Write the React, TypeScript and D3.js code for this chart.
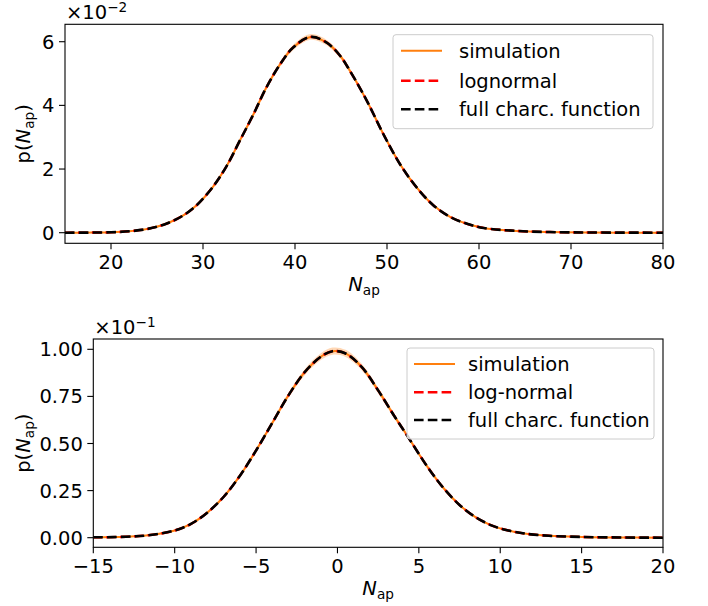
import React from 'react';
import * as d3 from 'd3';

// ---------- Data ----------
// Top panel: N_ap vs p(N_ap) in units of 1e-2
const topX = [15, 18, 20, 22, 24, 26, 27.9, 29.3, 31.1, 32.6, 34, 35.5, 36.9, 38.4, 39.8, 41.7, 43.4, 44.9, 46, 47.8, 49.6, 51.4, 53.2, 55, 56.85, 58.7, 60.5, 64.1, 67.7, 72, 80];
const topSim = [0.0, 0.004, 0.013, 0.045, 0.12, 0.28, 0.55, 0.86, 1.45, 2.11, 2.89, 3.73, 4.57, 5.3, 5.82, 6.15, 5.98, 5.56, 5.07, 4.15, 3.1, 2.16, 1.43, 0.87, 0.5, 0.28, 0.15, 0.055, 0.02, 0.006, 0.0];
const topSimErr = [0.01, 0.01, 0.01, 0.015, 0.02, 0.025, 0.03, 0.035, 0.04, 0.045, 0.05, 0.06, 0.07, 0.08, 0.085, 0.09, 0.085, 0.08, 0.07, 0.06, 0.05, 0.045, 0.04, 0.035, 0.03, 0.025, 0.02, 0.015, 0.01, 0.01, 0.01];
const topLognormal = [0.0, 0.004, 0.013, 0.045, 0.12, 0.28, 0.55, 0.86, 1.45, 2.11, 2.89, 3.73, 4.57, 5.3, 5.82, 6.15, 5.98, 5.56, 5.07, 4.15, 3.1, 2.16, 1.43, 0.87, 0.5, 0.28, 0.15, 0.055, 0.02, 0.006, 0.0];
const topFull = [0.0, 0.004, 0.013, 0.045, 0.12, 0.28, 0.55, 0.86, 1.45, 2.11, 2.89, 3.73, 4.57, 5.3, 5.82, 6.15, 5.98, 5.56, 5.07, 4.15, 3.1, 2.16, 1.43, 0.87, 0.5, 0.28, 0.15, 0.055, 0.02, 0.006, 0.0];
const topXTicks = [20, 30, 40, 50, 60, 70, 80];
const topYTicks = [0, 2, 4, 6];
const topYTickLabels = ['0', '2', '4', '6'];
const topLegend = ['simulation', 'lognormal', 'full charc. function'];

// Bottom panel: N_ap vs p(N_ap) in units of 1e-1
const botX = [-15, -13, -11.5, -10, -9, -8, -7, -6, -5, -4, -3, -2, -1, -0.3, 0.5, 1.5, 2.5, 3.5, 4.3, 5.5, 6.5, 7.5, 8.5, 9.5, 10.5, 11.5, 13, 15, 17.5, 20];
const botSim = [0.002, 0.005, 0.014, 0.038, 0.073, 0.133, 0.216, 0.328, 0.463, 0.61, 0.757, 0.88, 0.962, 0.99, 0.978, 0.905, 0.782, 0.645, 0.54, 0.38, 0.265, 0.174, 0.108, 0.064, 0.038, 0.022, 0.01, 0.004, 0.001, 0.0];
const botSimErr = [0.003, 0.003, 0.003, 0.004, 0.005, 0.006, 0.007, 0.008, 0.01, 0.012, 0.014, 0.016, 0.018, 0.019, 0.019, 0.017, 0.015, 0.013, 0.011, 0.009, 0.007, 0.006, 0.005, 0.004, 0.004, 0.003, 0.003, 0.003, 0.003, 0.003];
const botLognormal = [0.002, 0.005, 0.014, 0.038, 0.073, 0.133, 0.216, 0.328, 0.463, 0.61, 0.757, 0.88, 0.962, 0.99, 0.978, 0.905, 0.782, 0.645, 0.54, 0.38, 0.265, 0.174, 0.108, 0.064, 0.038, 0.022, 0.01, 0.004, 0.001, 0.0];
const botFull = [0.002, 0.005, 0.014, 0.038, 0.073, 0.133, 0.216, 0.328, 0.463, 0.61, 0.757, 0.88, 0.962, 0.99, 0.978, 0.905, 0.782, 0.645, 0.54, 0.38, 0.265, 0.174, 0.108, 0.064, 0.038, 0.022, 0.01, 0.004, 0.001, 0.0];
const botXTicks = [-15, -10, -5, 0, 5, 10, 15, 20];
const botYTicks = [0, 0.25, 0.5, 0.75, 1.0];
const botYTickLabels = ['0.00', '0.25', '0.50', '0.75', '1.00'];
const botLegend = ['simulation', 'log-normal', 'full charc. function'];

const FONT = 'DejaVu Sans, sans-serif';
const FS = 19.5;
const ORANGE = '#ff7f0e';
const RED = '#ff0000';

type PanelProps = {
  x: number[]; sim: number[]; err: number[]; logn: number[]; full: number[];
  xDomain: [number, number]; yDomain: [number, number];
  xTicks: number[]; yTicks: number[]; yTickLabels: string[];
  legend: string[]; exponent: string;
  left: number; right: number; top: number; bottom: number;
  legendBox: { x: number; y: number; w: number; h: number; handleX: number; textX: number; rows: number[] };
  yLabelX: number; xLabelBaseline: number;
};

function fmtTick(v: number) {
  return v < 0 ? '\u2212' + Math.abs(v) : String(v);
}

function Panel(p: PanelProps) {
  const xs = d3.scaleLinear().domain(p.xDomain).range([p.left, p.right]);
  const ys = d3.scaleLinear().domain(p.yDomain).range([p.bottom, p.top]);
  const idx = p.x.map((_, i) => i);
  const curve = d3.curveCatmullRom.alpha(0.5);
  const mk = (arr: number[]) => d3.line<number>().x(i => xs(p.x[i])).y(i => ys(arr[i])).curve(curve)(idx) || '';
  const band = d3.area<number>()
    .x(i => xs(p.x[i]))
    .y0(i => ys(p.sim[i] - p.err[i]))
    .y1(i => ys(p.sim[i] + p.err[i]))
    .curve(curve)(idx) || '';
  const clipId = 'clip' + Math.round(p.top);
  const cx = (p.left + p.right) / 2;
  const cy = (p.top + p.bottom) / 2;
  const lb = p.legendBox;
  return (
    <g>
      <defs>
        <clipPath id={clipId}>
          <rect x={p.left} y={p.top} width={p.right - p.left} height={p.bottom - p.top} />
        </clipPath>
      </defs>
      <g clipPath={`url(#${clipId})`}>
        <path d={band} fill={ORANGE} fillOpacity={0.3} stroke="none" />
        <path d={mk(p.sim)} fill="none" stroke={ORANGE} strokeWidth={2} />
        <path d={mk(p.logn)} fill="none" stroke={RED} strokeWidth={2.4} strokeDasharray="9.6,4.2" strokeDashoffset={0.8} />
        <path d={mk(p.full)} fill="none" stroke="#000" strokeWidth={2.6} strokeDasharray="9.6,4.2" />
      </g>
      {/* frame */}
      <rect x={p.left} y={p.top} width={p.right - p.left} height={p.bottom - p.top} fill="none" stroke="#000" strokeWidth={1.1} />
      {/* x ticks */}
      {p.xTicks.map(t => (
        <g key={'x' + t}>
          <line x1={xs(t)} x2={xs(t)} y1={p.bottom} y2={p.bottom + 6} stroke="#000" strokeWidth={1.1} />
          <text x={xs(t)} y={p.bottom + 25.5} textAnchor="middle" fontFamily={FONT} fontSize={FS} fill="#000">{fmtTick(t)}</text>
        </g>
      ))}
      {/* y ticks */}
      {p.yTicks.map((t, i) => (
        <g key={'y' + t}>
          <line x1={p.left - 6} x2={p.left} y1={ys(t)} y2={ys(t)} stroke="#000" strokeWidth={1.1} />
          <text x={p.left - 10.5} y={ys(t)} dy="0.36em" textAnchor="end" fontFamily={FONT} fontSize={FS} fill="#000">{p.yTickLabels[i]}</text>
        </g>
      ))}
      {/* offset text */}
      <text x={p.left + 1} y={p.top - 5} fontFamily={FONT} fontSize={FS} fill="#000">
        <tspan>{'\u00d710'}</tspan>
        <tspan fontSize={FS * 0.7} dy={-FS * 0.38}>{p.exponent}</tspan>
      </text>
      {/* x label */}
      <text x={cx} y={p.xLabelBaseline} textAnchor="middle" fontFamily={FONT} fontSize={FS} fill="#000">
        <tspan fontStyle="italic">N</tspan>
        <tspan fontSize={FS * 0.7} dy={FS * 0.22}>ap</tspan>
      </text>
      {/* y label */}
      <text transform={`translate(${p.yLabelX},${cy}) rotate(-90)`} textAnchor="middle" fontFamily={FONT} fontSize={FS} fill="#000">
        <tspan>p(</tspan>
        <tspan fontStyle="italic">N</tspan>
        <tspan fontSize={FS * 0.7} dy={FS * 0.22}>ap</tspan>
        <tspan dy={-FS * 0.22}>)</tspan>
      </text>
      {/* legend */}
      <rect x={lb.x} y={lb.y} width={lb.w} height={lb.h} rx={3} ry={3} fill="#fff" fillOpacity={0.8} stroke="#cccccc" strokeWidth={1} />
      {p.legend.map((name, i) => {
        const yy = lb.rows[i];
        const style = i === 0
          ? { stroke: ORANGE, strokeWidth: 2, dash: undefined as string | undefined }
          : i === 1 ? { stroke: RED, strokeWidth: 2.6, dash: '9.6,4.2' } : { stroke: '#000', strokeWidth: 2.6, dash: '9.6,4.2' };
        return (
          <g key={name}>
            <line x1={lb.handleX} x2={lb.handleX + 41} y1={yy} y2={yy} stroke={style.stroke} strokeWidth={style.strokeWidth} strokeDasharray={style.dash} />
            <text x={lb.textX} y={yy} dy="0.36em" fontFamily={FONT} fontSize={FS} fill="#000">{name}</text>
          </g>
        );
      })}
    </g>
  );
}

export default function App() {
  return (
    <svg width={708} height={606} style={{ position: 'absolute', left: 0, top: 0, background: '#fff' }}>
      <rect x={0} y={0} width={708} height={606} fill="#fff" />
      <Panel
        x={topX} sim={topSim} err={topSimErr} logn={topLognormal} full={topFull}
        xDomain={[15, 80]} yDomain={[-0.333, 6.547]}
        xTicks={topXTicks} yTicks={topYTicks} yTickLabels={topYTickLabels}
        legend={topLegend} exponent={'\u22122'}
        left={65} right={663} top={24.3} bottom={243.3}
        legendBox={{ x: 393, y: 34.7, w: 260, h: 94, handleX: 401, textX: 459, rows: [50.7, 80.7, 109.3] }}
        yLabelX={30} xLabelBaseline={291}
      />
      <Panel
        x={botX} sim={botSim} err={botSimErr} logn={botLognormal} full={botFull}
        xDomain={[-15, 20]} yDomain={[-0.051, 1.0547]}
        xTicks={botXTicks} yTicks={botYTicks} yTickLabels={botYTickLabels}
        legend={botLegend} exponent={'\u22121'}
        left={93.3} right={663} top={339} bottom={547.3}
        legendBox={{ x: 407, y: 348, w: 247, h: 91, handleX: 414, textX: 468, rows: [364, 392.3, 420] }}
        yLabelX={30} xLabelBaseline={595}
      />
    </svg>
  );
}
